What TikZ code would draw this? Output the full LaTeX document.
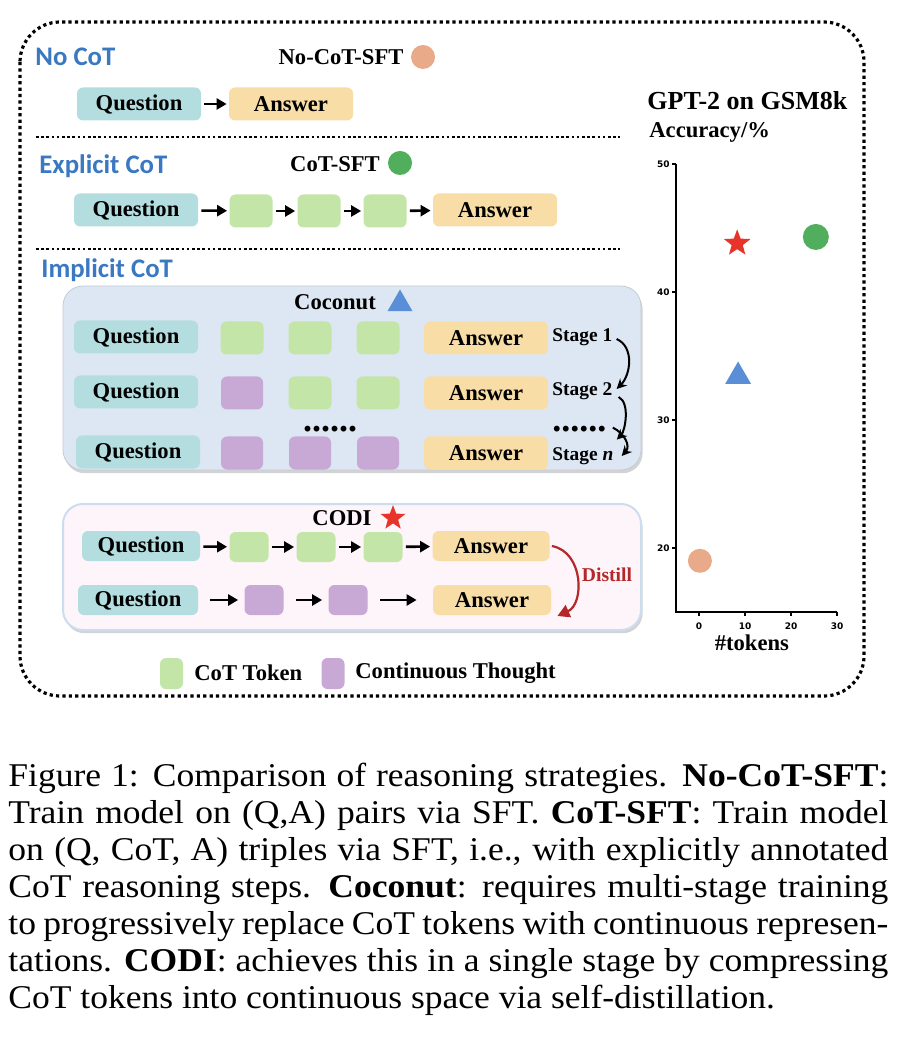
\documentclass[tikz,border=0pt]{standalone}
\usepackage{fontspec}
\setmainfont{Liberation Serif}
\newfontfamily\hdfont{Carlito}
\newfontfamily\tickfont{DejaVu Sans}
\newfontfamily\capfont{Liberation Serif}[FakeStretch=1.07]
\usetikzlibrary{arrows.meta,shapes.geometric,shadows,positioning}

\definecolor{qcol}{HTML}{B4DDE0}
\definecolor{acol}{HTML}{F8DDA6}
\definecolor{tokcol}{HTML}{C3E5A8}
\definecolor{thcol}{HTML}{C8A9D5}
\definecolor{hdblue}{HTML}{3A78C2}
\definecolor{coconutbg}{HTML}{DDE7F3}
\definecolor{codibg}{HTML}{FDF5FA}
\definecolor{codiline}{HTML}{CCDDF0}
\definecolor{nocotcol}{HTML}{E8AA88}
\definecolor{cotcol}{HTML}{50AE5C}
\definecolor{tricol}{HTML}{5A8FD8}
\definecolor{starcol}{HTML}{E8332A}
\definecolor{distcol}{HTML}{B5282A}

\tikzset{
  box/.style={rounded corners=3pt, minimum height=16.5pt, inner sep=0pt, font=\fontsize{11.3}{12}\selectfont\bfseries},
  qbox/.style={box, fill=qcol, minimum width=62pt},
  abox/.style={box, fill=acol, minimum width=62pt},
  tok/.style={box, fill=tokcol, minimum width=21.5pt},
  thought/.style={box, fill=thcol, minimum width=21pt},
  flow/.style={-{Triangle[length=5pt,width=5.5pt]}, line width=1.3pt, shorten <=1.5pt, shorten >=1pt},
  stagearrow/.style={-{Stealth[length=5pt,width=5pt]}, line width=1pt},
  hd/.style={font=\fontsize{13.4}{14}\selectfont\hdfont\bfseries, text=hdblue, inner sep=0pt},
  lbl/.style={font=\fontsize{11.3}{12}\selectfont\bfseries, inner sep=0pt},
  stagelbl/.style={font=\fontsize{9.7}{10}\selectfont\bfseries, inner sep=1pt, anchor=west},
  panel/.style={rounded corners=10pt, minimum width=289pt, drop shadow={opacity=0.35, shadow xshift=0.8pt, shadow yshift=-1.6pt}},
  frame/.style={line width=1.6pt, dash pattern=on 1.6pt off 1.6pt, rounded corners=20pt},
  sep/.style={line width=1.3pt, dash pattern=on 1.3pt off 1.3pt},
  disc/.style={circle, inner sep=0pt, minimum size=12pt},
  tri/.style={regular polygon, regular polygon sides=3, inner sep=0pt, minimum size=14.5pt, fill=tricol},
  starmark/.style={star, star points=5, star point ratio=2.4, inner sep=0pt, minimum size=13pt, fill=starcol},
  ticklab/.style={font=\fontsize{4.5}{5}\selectfont\tickfont\bfseries, inner sep=0pt},
  caption/.style={text width=440pt, inner sep=0pt, align=justify, font=\fontsize{16.6}{18.5}\selectfont\capfont}
}

\begin{document}
\begin{tikzpicture}[x=0.5pt,y=-0.5pt]
\useasboundingbox (0,0) rectangle (896,1052);

% outer frame
\draw[frame] (20,22) rectangle (864,696);

% No CoT
\node[hd, anchor=west] (nocot) at (35,57) {No CoT};
\node[lbl] (nocotsft) at (341,57) {No-CoT-SFT};
\node[disc, fill=nocotcol] (nocotmark) at (423,57) {};
\node[qbox] (q0) at (139,104) {Question};
\node[abox] (a0) at (291,104) {Answer};
\draw[flow] (q0) -- (a0);

\coordinate (sepA) at (36,137);
\coordinate (sepB) at (620,137);
\draw[sep] (sepA) -- (sepB);

% Explicit CoT
\node[hd, anchor=west] (explicit) at (39,166) {Explicit CoT};
\node[lbl] (cotsft) at (335,164) {CoT-SFT};
\node[disc, fill=cotcol] (cotmark) at (400,163) {};
\node[qbox] (q1) at (136,210) {Question};
\node[tok] (t11) at (251,211) {};
\node[tok] (t12) at (319,211) {};
\node[tok] (t13) at (385,211) {};
\node[abox] (a1) at (495,210) {Answer};
\draw[flow] (q1) -- (t11);
\draw[flow] (t11) -- (t12);
\draw[flow] (t12) -- (t13);
\draw[flow] (t13) -- (a1);

\coordinate (sepC) at (36,249);
\coordinate (sepD) at (620,249);
\draw[sep] (sepC) -- (sepD);

% Implicit CoT
\node[hd, anchor=west] (implicit) at (41,270) {Implicit CoT};

% Coconut panel
\node[panel, fill=coconutbg, draw=coconutbg!88!black, line width=0.4pt, minimum height=92pt] (coconut) at (352,378) {};
\node[lbl] (coconutlbl) at (335,302) {Coconut};
\node[tri] (coconutmark) at (400,304) {};

\node[qbox] (cq1) at (136,337) {Question};
\node[tok] (c11) at (242,338) {};
\node[tok] (c12) at (310,338) {};
\node[tok] (c13) at (378,338) {};
\node[abox] (ca1) at (486,338) {Answer};
\node[stagelbl] (stage1) at (550,337) {Stage 1};

\node[qbox] (cq2) at (136,392) {Question};
\node[thought] (c21) at (242,393) {};
\node[tok] (c22) at (310,393) {};
\node[tok] (c23) at (378,393) {};
\node[abox] (ca2) at (486,393) {Answer};
\node[stagelbl] (stage2) at (550,391) {Stage 2};

\node[lbl, font=\fontsize{18}{18}\selectfont\bfseries, anchor=base] (dotsmid) at (330,432) {......};
\node[lbl, font=\fontsize{18}{18}\selectfont\bfseries, anchor=base west] (dotsstage) at (552,432) {......};

\node[qbox] (cq3) at (138,452) {Question};
\node[thought] (c31) at (242,453) {};
\node[thought] (c32) at (310,453) {};
\node[thought] (c33) at (378,453) {};
\node[abox] (ca3) at (486,453) {Answer};
\node[stagelbl] (stage3) at (550,456) {Stage \textit{n}};

\draw[stagearrow] ([xshift=1pt,yshift=-1pt]stage1.east) .. controls +(18,8) and +(14,-14) .. ([xshift=1pt,yshift=1pt]stage2.east);
\draw[stagearrow] ([xshift=2pt,yshift=-3pt]stage2.east) .. controls +(12,6) and +(8,-8) .. ([xshift=5pt,yshift=-5pt]dotsstage.east);
\draw[stagearrow] ([xshift=3pt,yshift=1pt]dotsstage.east) .. controls +(12,6) and +(9,-10) .. ([xshift=3pt,yshift=0pt]stage3.east);

% CODI panel
\node[panel, fill=codibg, draw=codiline, line width=1pt, minimum height=63pt] (codi) at (352,567) {};
\node[lbl] (codilbl) at (342,518) {CODI};
\node[starmark] (codimark) at (393,518) {};

\node[qbox, minimum width=59pt, minimum height=15pt] (dq1) at (141,546) {Question};
\node[tok, minimum width=19.5pt, minimum height=15pt] (d11) at (249,547) {};
\node[tok, minimum width=19.5pt, minimum height=15pt] (d12) at (316,547) {};
\node[tok, minimum width=19.5pt, minimum height=15pt] (d13) at (383,547) {};
\node[abox, minimum width=58.5pt, minimum height=15pt] (da1) at (491,546) {Answer};
\draw[flow] (dq1) -- (d11);
\draw[flow] (d11) -- (d12);
\draw[flow] (d12) -- (d13);
\draw[flow] (d13) -- (da1);

\node[qbox, minimum width=60pt, minimum height=15pt] (dq2) at (138,600) {Question};
\node[thought, minimum width=19.5pt, minimum height=15pt] (d21) at (264,600) {};
\node[thought, minimum width=19.5pt, minimum height=15pt] (d22) at (348,600) {};
\node[abox, minimum width=59pt, minimum height=15pt] (da2) at (492,600) {Answer};
\draw[flow, shorten <=6pt, shorten >=3pt] (dq2) -- (d21);
\draw[flow, shorten <=6pt, shorten >=3pt] (d21) -- (d22);
\draw[flow, shorten <=6pt, shorten >=8pt] (d22) -- (da2);

\draw[distcol, line width=1.1pt, -{Triangle[length=6pt,width=6.5pt]}] ([xshift=1pt]da1.east) .. controls +(32,6) and +(27,-12) .. ([xshift=3pt,yshift=-8pt]da2.east);
\node[lbl, font=\fontsize{9.8}{10}\selectfont\bfseries, text=distcol] (distill) at (607,575) {Distill};

% legend
\node[tok, minimum width=11.5pt, minimum height=15.5pt] (legtok) at (171.5,673.5) {};
\node[lbl, anchor=west] (legtoklbl) at (194,673) {CoT Token};
\node[thought, minimum width=11.5pt, minimum height=15.5pt] (legth) at (333,673.5) {};
\node[lbl, anchor=west] (legthlbl) at (355,673) {Continuous Thought};

% scatter plot
\node[lbl, font=\fontsize{13}{14}\selectfont\bfseries, anchor=west] (charttitle) at (647,101) {GPT-2 on GSM8k};
\node[lbl, anchor=west] (ylabel) at (649,132) {Accuracy/\%};
\begin{scope}[shift={(699,804)}, xscale=4.6, yscale=-12.8]
  \draw[line width=1.2pt] (-5,50) -- (-5,15) -- (30,15);
  \foreach \v in {20,30,40,50} {
    \draw[line width=0.8pt] (-5,\v) -- (-5.9,\v);
    \node[ticklab, anchor=east] at (-6.3,\v) {\v};
  }
  \foreach \v in {0,10,20,30} {
    \draw[line width=0.8pt] (\v,15) -- (\v,14.7);
    \node[ticklab] at (\v,13.9) {\v};
  }
  \node[lbl] (xlabel) at (11.5,12.6) {\#tokens};
  \node[disc, fill=nocotcol] (ptnocot) at (0.2,19) {};
  \node[disc, fill=cotcol, minimum size=13pt] (ptcot) at (25.4,44.3) {};
  \node[tri, minimum size=15pt] (ptcoconut) at (8.5,33.4) {};
  \node[starmark, minimum size=14pt] (ptcodi) at (8.3,43.8) {};
\end{scope}

% caption
\node[caption, anchor=north west] (cap) at (8,763) {Figure~1: Comparison of reasoning strategies. \textbf{No-CoT-SFT}:\linebreak
Train model on (Q,A) pairs via SFT. \textbf{CoT-SFT}: Train model\linebreak
on (Q, CoT, A) triples via SFT, i.e., with explicitly annotated\linebreak
CoT reasoning steps. \textbf{Coconut}: requires multi-stage training\linebreak
to progressively replace CoT tokens with continuous represen-\linebreak
tations. \textbf{CODI}: achieves this in a single stage by compressing\linebreak
CoT tokens into continuous space via self-distillation.};
\end{tikzpicture}
\end{document}
